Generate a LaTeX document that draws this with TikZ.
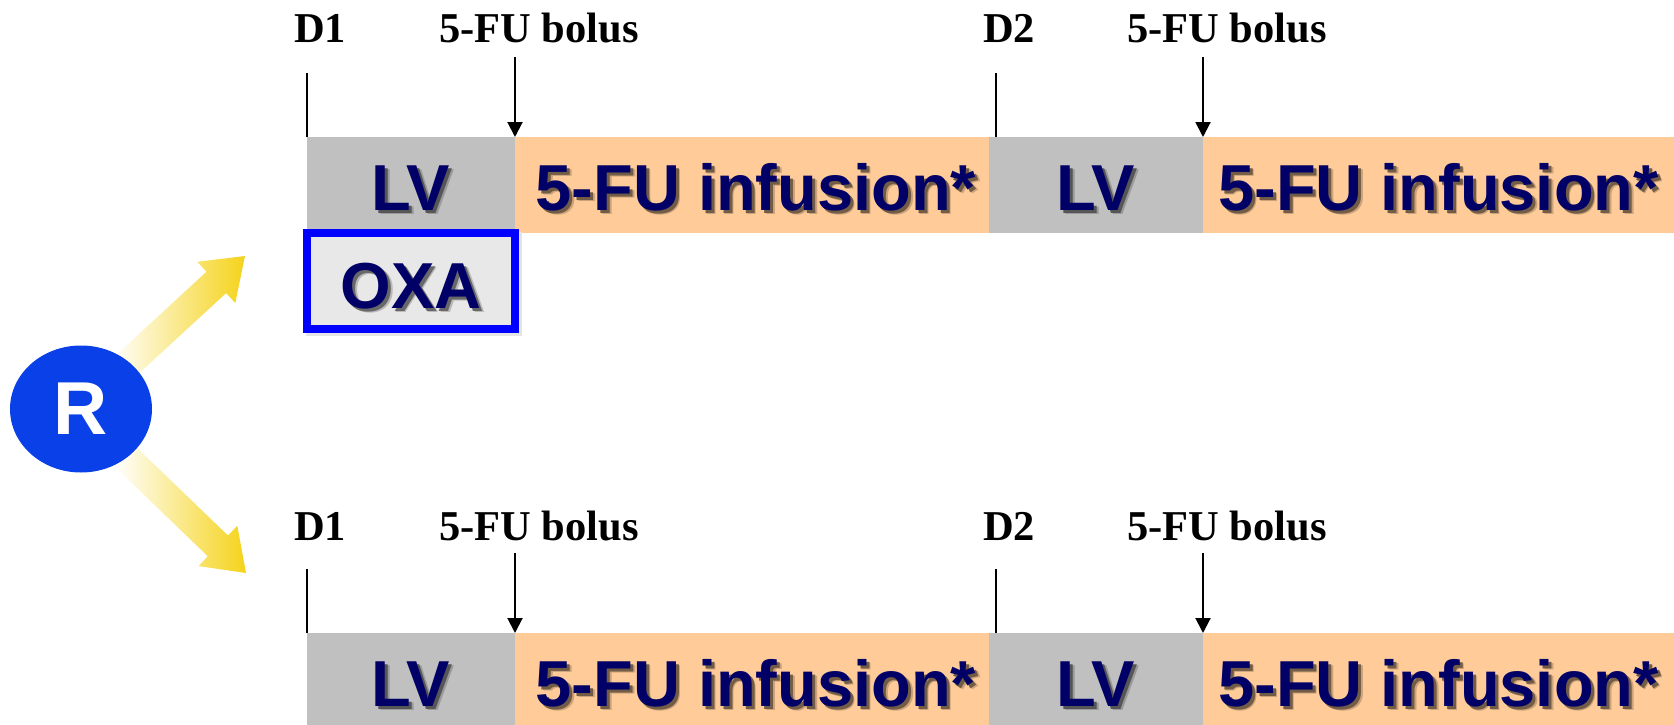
\documentclass[tikz,border=0pt]{standalone}
\usepackage{fontspec}
\setmainfont{Liberation Serif}
\newfontfamily\barfont{Liberation Sans}
\usetikzlibrary{arrows.meta,shapes.geometric}

\definecolor{lvgray}{HTML}{C0C0C0}
\definecolor{fuorange}{HTML}{FFCC99}
\definecolor{oxafill}{HTML}{E8E8E8}
\definecolor{oxablue}{HTML}{0000FF}
\definecolor{drugnavy}{HTML}{000066}
\definecolor{rblue}{HTML}{0A40E8}
\definecolor{arrowyellow}{HTML}{F5D31A}
% drop-shadow tones (core and soft fringe) on each background
\definecolor{shgray}{HTML}{565656}   \definecolor{shgraysoft}{HTML}{9A9A9A}
\definecolor{shorange}{HTML}{735C45} \definecolor{shorangesoft}{HTML}{CCA37A}
\definecolor{shoxa}{HTML}{686868}    \definecolor{shoxasoft}{HTML}{BABABA}

\tikzset{
  seg/.style={draw=none, inner sep=0pt, outer sep=0pt, minimum height=96pt, anchor=north west},
  lvseg/.style={seg, fill=lvgray, minimum width=208pt},
  fuseg/.style={seg, fill=fuorange},
  drugtext/.style={inner sep=0pt, anchor=base, text=drugnavy,
    font=\barfont\bfseries\fontsize{65}{70}\selectfont},
  daylabel/.style={inner sep=0pt, anchor=base west,
    font=\bfseries\fontsize{42.5}{46}\selectfont},
  daytick/.style={line width=2pt},
  bolus/.style={line width=2pt, -{Triangle[width=15pt,length=15pt]}},
  fadearrow/.style={left color=white, right color=arrowyellow},
}

% text with a soft drop shadow: #1 shadow tone prefix, #2 text
\newcommand\shadowed[2]{%
  \rlap{\kern4.5pt\raisebox{-4.5pt}{\textcolor{#1soft}{#2}}}%
  \rlap{\kern3pt\raisebox{-3pt}{\textcolor{#1}{#2}}}%
  #2}

\begin{document}
\begin{tikzpicture}[x=1pt, y=-1pt]
\useasboundingbox (0,0) rectangle (1674,725);

% ---------- arm A (with oxaliplatin) ----------
\node[lvseg] (lvA1) at (307,137) {};
\node[fuseg, minimum width=482pt] (fuA1) at (515,137) {};
\node[lvseg, minimum width=214pt] (lvA2) at (989,137) {};
\node[fuseg, minimum width=471pt] (fuA2) at (1203,137) {};

\node[drugtext] (lvA1t) at ([yshift=23pt]lvA1.south) {\shadowed{shgray}{LV}};
\node[drugtext] (fuA1t) at ([yshift=23pt]fuA1.south) {\shadowed{shorange}{5-FU infusion*}};
\node[drugtext] (lvA2t) at ([yshift=23pt]lvA2.south) {\shadowed{shgray}{LV}};
\node[drugtext] (fuA2t) at ([yshift=23pt]fuA2.south) {\shadowed{shorange}{5-FU infusion*}};

\node[fill=black!10, minimum width=216pt, minimum height=104pt, inner sep=0pt] at (414,284) {};
\node[draw=oxablue, line width=8pt, fill=oxafill, minimum width=208pt,
      minimum height=96pt, inner sep=0pt] (oxa) at (411,281) {};
\node[drugtext] (oxat) at ([yshift=25pt]oxa.south) {\shadowed{shoxa}{OXA}};

\coordinate (tA1) at (307,73);
\coordinate (tA2) at (996,73);
\coordinate (bA1) at (515,57);
\coordinate (bA2) at (1203,57);
\draw[daytick] (tA1) -- (tA1 |- lvA1.north);
\draw[daytick] (tA2) -- (tA2 |- lvA2.north);
\draw[bolus] (bA1) -- (lvA1.north east);
\draw[bolus] (bA2) -- (lvA2.north east);

\node[daylabel] (dA1) at (294,43) {D1};
\node[daylabel] (sA1) at (439,43) {5-FU bolus};
\node[daylabel] (dA2) at (983,43) {D2};
\node[daylabel] (sA2) at (1127,43) {5-FU bolus};

% ---------- arm B (control) ----------
\node[lvseg] (lvB1) at (307,633) {};
\node[fuseg, minimum width=482pt] (fuB1) at (515,633) {};
\node[lvseg, minimum width=214pt] (lvB2) at (989,633) {};
\node[fuseg, minimum width=471pt] (fuB2) at (1203,633) {};

\node[drugtext] (lvB1t) at ([yshift=23pt]lvB1.south) {\shadowed{shgray}{LV}};
\node[drugtext] (fuB1t) at ([yshift=23pt]fuB1.south) {\shadowed{shorange}{5-FU infusion*}};
\node[drugtext] (lvB2t) at ([yshift=23pt]lvB2.south) {\shadowed{shgray}{LV}};
\node[drugtext] (fuB2t) at ([yshift=23pt]fuB2.south) {\shadowed{shorange}{5-FU infusion*}};

\coordinate (tB1) at (307,569);
\coordinate (tB2) at (996,569);
\coordinate (bB1) at (515,553);
\coordinate (bB2) at (1203,553);
\draw[daytick] (tB1) -- (tB1 |- lvB1.north);
\draw[daytick] (tB2) -- (tB2 |- lvB2.north);
\draw[bolus] (bB1) -- (lvB1.north east);
\draw[bolus] (bB2) -- (lvB2.north east);

\node[daylabel] (dB1) at (294,540) {D1};
\node[daylabel] (sB1) at (439,540) {5-FU bolus};
\node[daylabel] (dB2) at (983,540) {D2};
\node[daylabel] (sB2) at (1127,540) {5-FU bolus};

% ---------- randomisation ----------
\shade[fadearrow] (110.9,359.8) -- (206.5,271.7) -- (197.3,261.8) -- (245,256)
  -- (235.3,303.0) -- (226.1,293.1) -- (130.5,381.2) -- cycle;
\shade[fadearrow] (134.4,445.3) -- (228.0,535.5) -- (237.3,525.7) -- (246,573)
  -- (198.5,566.1) -- (207.8,556.3) -- (114.2,466.1) -- cycle;

\node[ellipse, fill=rblue, minimum width=142pt, minimum height=127pt, inner sep=0pt,
      text=white, font=\barfont\bfseries\fontsize{75}{80}\selectfont] (R) at (81,409) {R};
\end{tikzpicture}
\end{document}
